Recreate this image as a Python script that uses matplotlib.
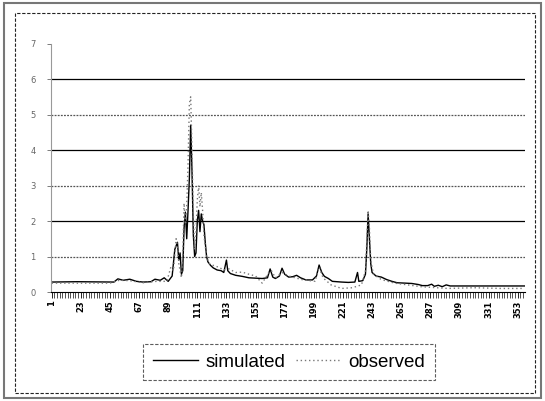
import matplotlib
matplotlib.use("Agg")
import matplotlib.pyplot as plt
from matplotlib.patches import Rectangle

# values (day, flow)
sim_days = [1, 20, 48, 51, 55, 60, 65, 70, 76, 79, 83, 86, 89, 92, 94, 96, 97, 98, 99, 100,
            101, 102, 103, 104, 105, 106, 107, 108, 109, 110, 111, 112, 113, 114, 115, 116,
            117, 118, 119, 121, 123, 126, 129, 131, 133, 134, 136, 140, 145, 150, 155, 160,
            164, 166, 168, 170, 173, 175, 177, 180, 183, 186, 189, 193, 198, 201, 203, 205,
            207, 210, 213, 220, 225, 230, 232, 233, 236, 238, 239, 240, 241, 242, 243, 246,
            250, 254, 258, 262, 268, 273, 278, 281, 285, 288, 290, 293, 296, 299, 302, 310,
            320, 330, 340, 350, 358]
sim_vals = [0.28, 0.29, 0.28, 0.37, 0.33, 0.36, 0.30, 0.28, 0.29, 0.36, 0.33, 0.40, 0.30,
            0.45, 1.2, 1.4, 0.9, 1.1, 0.5, 0.6, 1.8, 2.25, 1.5, 2.3, 3.2, 4.7, 3.4, 1.6, 1.0,
            1.1, 2.0, 2.3, 1.7, 2.2, 2.0, 1.9, 1.4, 1.0, 0.85, 0.75, 0.68, 0.62, 0.6, 0.55,
            0.9, 0.6, 0.52, 0.47, 0.44, 0.40, 0.39, 0.38, 0.40, 0.65, 0.42, 0.38, 0.45, 0.67,
            0.50, 0.42, 0.43, 0.47, 0.40, 0.34, 0.34, 0.45, 0.76, 0.55, 0.44, 0.38, 0.30,
            0.28, 0.27, 0.28, 0.55, 0.30, 0.32, 0.50, 1.2, 2.2, 1.5, 0.8, 0.55, 0.45, 0.42,
            0.35, 0.30, 0.26, 0.25, 0.24, 0.21, 0.18, 0.18, 0.22, 0.16, 0.19, 0.15, 0.20,
            0.17, 0.17, 0.17, 0.17, 0.17, 0.17, 0.17]

obs_days = [1, 45, 52, 60, 70, 80, 88, 91, 93, 95, 96, 97, 99, 100, 101, 102, 103, 104, 105,
            106, 107, 108, 109, 110, 111, 112, 113, 114, 115, 116, 118, 120, 123, 127, 131,
            135, 140, 145, 150, 155, 160, 165, 167, 170, 175, 180, 190, 200, 203, 206, 212,
            220, 228, 235, 238, 240, 241, 242, 244, 250, 260, 270, 280, 300, 320, 340, 358]
obs_vals = [0.25, 0.25, 0.33, 0.32, 0.26, 0.30, 0.30, 0.70, 0.60, 1.5, 1.3, 0.8, 0.4, 1.0,
            2.5, 1.9, 2.4, 3.6, 5.3, 5.5, 4.0, 2.2, 1.2, 1.7, 2.6, 3.0, 2.4, 2.8, 2.3, 1.6,
            1.0, 0.8, 0.75, 0.70, 0.62, 0.65, 0.55, 0.56, 0.50, 0.45, 0.25, 0.55, 0.60, 0.40,
            0.55, 0.45, 0.35, 0.30, 0.70, 0.40, 0.20, 0.10, 0.12, 0.20, 0.60, 2.3, 1.8, 0.9,
            0.5, 0.35, 0.25, 0.20, 0.15, 0.10, 0.12, 0.10, 0.10]

x_labels = list(range(1, 354, 22))
y_ticks = list(range(0, 8))


def main():
    fig = plt.figure(figsize=(5.45, 4.01), dpi=100)
    fig.patches.append(Rectangle((4 / 545, 3 / 401), 537 / 545, 395 / 401, transform=fig.transFigure,
                                 fill=False, edgecolor='#777777', lw=1.5))
    fig.patches.append(Rectangle((15 / 545, 8 / 401), 520 / 545, 380 / 401, transform=fig.transFigure,
                                 fill=False, edgecolor='#222222', lw=0.8, ls=(0, (3, 1.5))))

    ax = fig.add_axes([51 / 545, 1 - 292 / 401, 474 / 545, 248.5 / 401])
    ax.plot(sim_days, sim_vals, color='black', lw=1.0, label='simulated')
    ax.plot(obs_days, obs_vals, color='#777777', lw=1.0, ls=(0, (1, 2)), label='observed')

    ax.set_xlim(0.5, 358.5)
    ax.set_ylim(0, 7)
    ax.set_yticks(y_ticks)
    ax.set_xticks(x_labels)
    ax.set_xticklabels([str(v) for v in x_labels], rotation=90, fontsize=6, fontweight='bold')
    ax.set_xticks(range(1, 359, 2), minor=True)
    ax.tick_params(axis='x', which='minor', length=4, width=0.6, color='#333333')
    ax.tick_params(axis='x', which='major', length=4, width=0.6, pad=2)
    ax.tick_params(axis='y', length=3, width=0.6, labelsize=6, labelcolor='#666666', color='#666666', pad=8)

    ax.yaxis.grid(True, color='black', lw=0.9)
    for i, gl in enumerate(ax.get_ygridlines()):
        if y_ticks[i] % 2 == 1:
            gl.set_linestyle((0, (1.5, 1)))
            gl.set_color('#555555')
        if y_ticks[i] in (0, 7):
            gl.set_visible(False)
    ax.set_axisbelow(True)

    ax.spines['top'].set_visible(False)
    ax.spines['right'].set_visible(False)
    ax.spines['left'].set_color('#999999')
    ax.spines['left'].set_linestyle((0, (2, 1)))
    ax.spines['bottom'].set_color('black')

    leg = fig.legend(loc='center', bbox_to_anchor=(289 / 545, 1 - 362 / 401), ncol=2,
                     frameon=True, fancybox=False, edgecolor='#333333', handlelength=2.4,
                     columnspacing=0.6, handletextpad=0.4, borderpad=0.5, borderaxespad=0,
                     prop={'family': 'Liberation Sans', 'size': 13.5})
    leg.get_frame().set_linewidth(0.8)
    leg.get_frame().set_linestyle((0, (3, 1.5)))

    fig.savefig('out.png', dpi=100)


if __name__ == '__main__':
    main()
